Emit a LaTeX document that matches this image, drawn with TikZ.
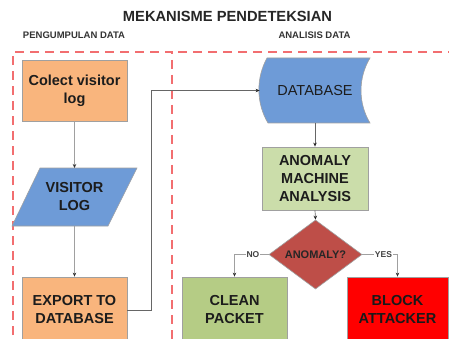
\documentclass[tikz,border=0pt]{standalone}
\usepackage{fontspec}
\setmainfont{Liberation Sans}
\usetikzlibrary{arrows.meta,shapes.geometric}
\definecolor{orangebox}{RGB}{249,181,125}
\definecolor{bluebox}{RGB}{110,155,215}
\definecolor{lgreen}{RGB}{203,221,170}
\definecolor{dgreen}{RGB}{181,204,133}
\definecolor{diared}{RGB}{190,78,72}
\definecolor{pinkred}{RGB}{242,110,112}
\definecolor{edgegray}{RGB}{160,160,160}
\definecolor{txt}{RGB}{28,28,28}
\begin{document}
\begin{tikzpicture}[x=1pt,y=-1pt,
  box/.style={draw=edgegray, line width=0.8pt, align=center, text=txt,
    font=\fontsize{14.5}{18}\selectfont\bfseries, inner sep=0pt},
  conn/.style={draw=edgegray, line width=0.9pt, -{Stealth[length=4pt,width=3.5pt,color=black!80]}},
  conndark/.style={draw=black!60, line width=0.7pt, -{Stealth[length=4pt,width=3.5pt,color=black!85]}},
  regionline/.style={draw=pinkred, line width=1.2pt, dash pattern=on 9pt off 6pt},
  lbl/.style={fill=white, inner sep=1pt, text=black!75, font=\fontsize{8.5}{10}\selectfont\bfseries},
  head/.style={text=black!80, font=\fontsize{9.5}{11}\selectfont\bfseries}]
\clip (0,0) rectangle (449,339);
\fill[white] (0,0) rectangle (449,339);

% titles
\node[text=black!85, font=\fontsize{14.7}{17}\selectfont\bfseries] (title) at (227.5,16) {MEKANISME PENDETEKSIAN};
\node[head] (hleft) at (74,35) {PENGUMPULAN DATA};
\node[head] (hright) at (314.5,35) {ANALISIS DATA};

% dashed regions
\draw[regionline] (13,350) -- (13,52) -- (172,52) -- (172,350);
\draw[regionline] (178,52) -- (460,52);

% left column
\node[box, fill=orangebox, minimum width=105pt, minimum height=61pt] (colect) at (74.5,90.5) {Colect visitor\\log};
\filldraw[fill=bluebox, draw=edgegray, line width=0.6pt] (40,168) -- (137,168) -- (108,226) -- (12,226) -- cycle;
\node[box, draw=none, align=center] (vlog) at (74.5,196.5) {VISITOR\\LOG};
\coordinate (vtop) at (74.5,168);
\coordinate (vbot) at (74.5,226);
\node[box, fill=orangebox, minimum width=105pt, minimum height=66pt] (export) at (74.5,310) {EXPORT TO\\DATABASE};

\draw[conn] (colect.south) -- (vtop);
\draw[conn] (vbot) -- (export.north);

% database (stored data shape)
\filldraw[fill=bluebox, draw=edgegray, line width=0.6pt]
  (267,58) -- (370,58) .. controls (358,78) and (358,103) .. (370,123)
  -- (268,123) .. controls (256,103) and (256,78) .. (267,58) -- cycle;
\node[box, draw=none, minimum width=110pt, minimum height=65pt, font=\fontsize{14.5}{18}\selectfont] (db) at (315,90.5) {DATABASE};

\draw[conndark] (export.east) -- ++(24,0) |- (db.west);

% analysis
\node[box, fill=lgreen, minimum width=106pt, minimum height=63pt] (ama) at (315,178.5) {ANOMALY\\MACHINE\\ANALYSIS};
\draw[conndark] (db.south) -- (ama.north);

\node[diamond, fill=diared, draw=edgegray, line width=0.6pt, minimum width=93pt, minimum height=55pt, inner sep=0pt,
  text=black!85, font=\fontsize{11}{13}\selectfont\bfseries] (anom) at (315.5,254.5) {ANOMALY?};
\draw[conndark] (ama.south) -- (anom.north);

\node[box, fill=dgreen, minimum width=105pt, minimum height=66pt] (clean) at (234.5,310) {CLEAN\\PACKET};
\node[box, fill=red, minimum width=101pt, minimum height=66pt, text=black!90] (block) at (397.5,310) {BLOCK\\ATTACKER};

\draw[conn] (anom.west) -| node[lbl, pos=0.23] {NO} (clean.north);
\draw[conn] (anom.east) -| node[lbl, pos=0.3] {YES} (block.north);
\end{tikzpicture}
\end{document}
